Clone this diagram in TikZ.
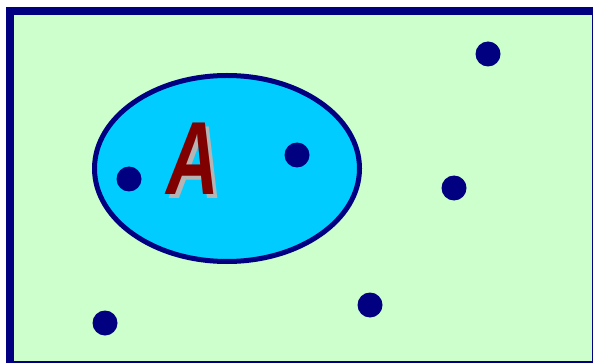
\documentclass[tikz,border=0pt]{standalone}
\usepackage{fontspec}
\setmainfont{Liberation Sans}
\usetikzlibrary{shapes.geometric}
\definecolor{navy}{HTML}{000080}
\definecolor{universe}{HTML}{CCFFCC}
\definecolor{setcyan}{HTML}{00CCFF}
\definecolor{letterred}{HTML}{800000}
\definecolor{shadowgray}{HTML}{B4B4B4}
\tikzset{
  element/.style={circle, fill=navy, inner sep=0pt, minimum size=25pt},
  setlabel/.style={inner sep=0pt, font=\fontsize{104}{104}\selectfont\bfseries\itshape, xscale=0.7}
}
\begin{document}
\begin{tikzpicture}[x=1pt, y=-1pt]
  \useasboundingbox (0,0) rectangle (593,363);
  % universe U
  \draw[line width=8pt, draw=navy, fill=universe] (10,11) rectangle (596,364.5);
  % set A
  \node[ellipse, draw=navy, line width=5pt, fill=setcyan, inner sep=0pt,
        minimum width=265pt, minimum height=186pt] (setA) at (227,168.5) {};
  \node[setlabel, text=shadowgray] (labelshadow) at (197,162.5) {A};
  \node[setlabel, text=letterred] (labelA) at (192.5,158.5) {A};
  % elements
  \foreach \name/\x/\y in {a1/129/179, a2/297/155, u1/488/54, u2/454/188, u3/370/305, u4/105/323}
    \node[element] (\name) at (\x,\y) {};
\end{tikzpicture}
\end{document}
